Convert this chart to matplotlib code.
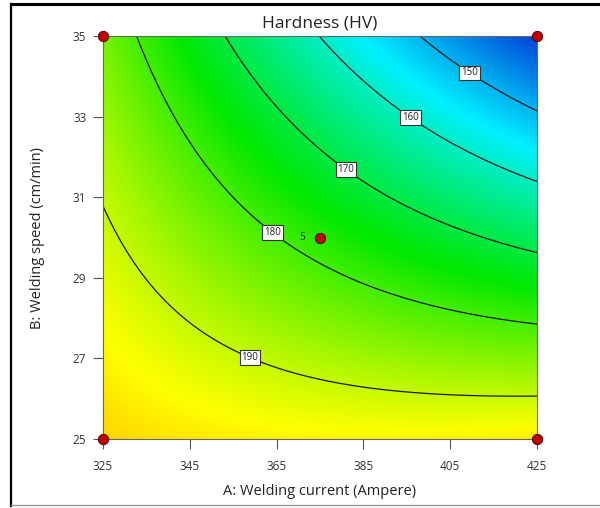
import numpy as np
import matplotlib
matplotlib.use("Agg")
import matplotlib.pyplot as plt
from matplotlib.colors import LinearSegmentedColormap
from matplotlib.lines import Line2D

plt.rcParams['font.family'] = ['Open Sans', 'DejaVu Sans']

# points (current A, speed B)
h150_a = [397.3, 409.8, 425.0]
h150_b = [35.0, 34.13, 33.12]
h160_a = [374.5, 385.0, 396.1, 425.0]
h160_b = [35.0, 33.98, 33.0, 31.37]
h170_a = [353.1, 375.0, 381.1, 425.0]
h170_b = [35.0, 32.1, 31.70, 29.62]
h180_a = [332.8, 344.3, 355.0, 364.2, 375.0, 400.3, 425.0]
h180_b = [35.0, 32.34, 31.01, 30.14, 29.27, 28.41, 27.83]
h190_a = [325.0, 327.8, 339.7, 347.4, 359.3, 374.2, 400.0, 425.0]
h190_b = [31.0, 30.19, 28.28, 27.62, 27.13, 26.46, 26.13, 26.07]

levels = [150, 160, 170, 180, 190]
label_pos = [(409.8, 34.13), (396.1, 33.0), (381.1, 31.70), (364.2, 30.14), (359.3, 27.13)]

# design points
design_a = [325, 325, 425, 425, 375]
design_b = [25, 35, 25, 35, 30]

x_ticks = [325, 345, 365, 385, 405, 425]
y_ticks = [25, 27, 29, 31, 33, 35]


def coded(a, b):
    return (np.asarray(a) - 375.0) / 50.0, (np.asarray(b) - 30.0) / 5.0


def terms(x, y):
    return np.column_stack([np.ones_like(x), x, y, x * y, x ** 2, y ** 2])


# quadratic response surface through the traced contours
A_all, B_all, H_all = [], [], []
for h, aa, bb in [(150, h150_a, h150_b), (160, h160_a, h160_b), (170, h170_a, h170_b),
                  (180, h180_a, h180_b), (190, h190_a, h190_b)]:
    A_all += aa
    B_all += bb
    H_all += [h] * len(aa)
xc, yc = coded(A_all, B_all)
coef, *_ = np.linalg.lstsq(terms(xc, yc), np.array(H_all, dtype=float), rcond=None)

ga = np.linspace(325, 425, 300)
gb = np.linspace(25, 35, 300)
GA, GB = np.meshgrid(ga, gb)
gx, gy = coded(GA.ravel(), GB.ravel())
GH = (terms(gx, gy) @ coef).reshape(GA.shape)

cmap = LinearSegmentedColormap.from_list(
    "de", ["#0020d0", "#00f0ff", "#00e800", "#ffff00", "#ff0000"])

fig = plt.figure(figsize=(6.0, 5.08), dpi=100)
ax = fig.add_axes([0.1717, 0.1358, 0.7233, 0.7933])

ax.imshow(GH, extent=(325, 425, 25, 35), origin="lower", aspect="auto",
          cmap=cmap, vmin=136, vmax=214, interpolation="bilinear")
cs = ax.contour(GA, GB, GH, levels=levels, colors="#1a1a1a", linewidths=0.9)
labels = ax.clabel(cs, fmt="%d", fontsize=7, inline=False, manual=label_pos)
for t in labels:
    t.set_rotation(0)
    t.set_color("#222222")
    t.set_bbox(dict(boxstyle="square,pad=0.2", facecolor="white",
                    edgecolor="#333333", linewidth=0.8))
    t.set_zorder(5)

ax.plot(design_a, design_b, "o", color="#c00000", markeredgecolor="#400000",
        markersize=7.5, markeredgewidth=0.6, clip_on=False, zorder=6)
ax.text(371.5, 30, "5", fontsize=7, color="#222222", ha="right", va="center", zorder=6)

ax.set_xlim(325, 425)
ax.set_ylim(25, 35)
ax.set_xticks(x_ticks)
ax.set_yticks(y_ticks)
ax.tick_params(direction="out", length=7, width=0.8, color="#555555",
               labelsize=8.5, labelcolor="#333333")
ax.tick_params(axis="x", pad=8)
ax.tick_params(axis="y", pad=5)
for s in ax.spines.values():
    s.set_color("#666666")
    s.set_linewidth(0.8)

ax.set_title("Hardness (HV)", fontsize=12.5, color="#222222", pad=6)
ax.set_xlabel("A: Welding current (Ampere)", fontsize=10.5, color="#222222", labelpad=8)
ax.set_ylabel("B: Welding speed (cm/min)", fontsize=10.5, color="#222222", labelpad=20)

# outer frame of the window
fig.add_artist(Line2D([11 / 600, 1.0], [1 - 4 / 508, 1 - 4 / 508], color="black", linewidth=2.2))
fig.add_artist(Line2D([11 / 600, 11 / 600], [1 - 4 / 508, 0.004], color="black", linewidth=1.6))
fig.add_artist(Line2D([11 / 600, 1.0], [0.006, 0.006], color="#999999", linewidth=1.0))

fig.savefig("out.png", dpi=100)
